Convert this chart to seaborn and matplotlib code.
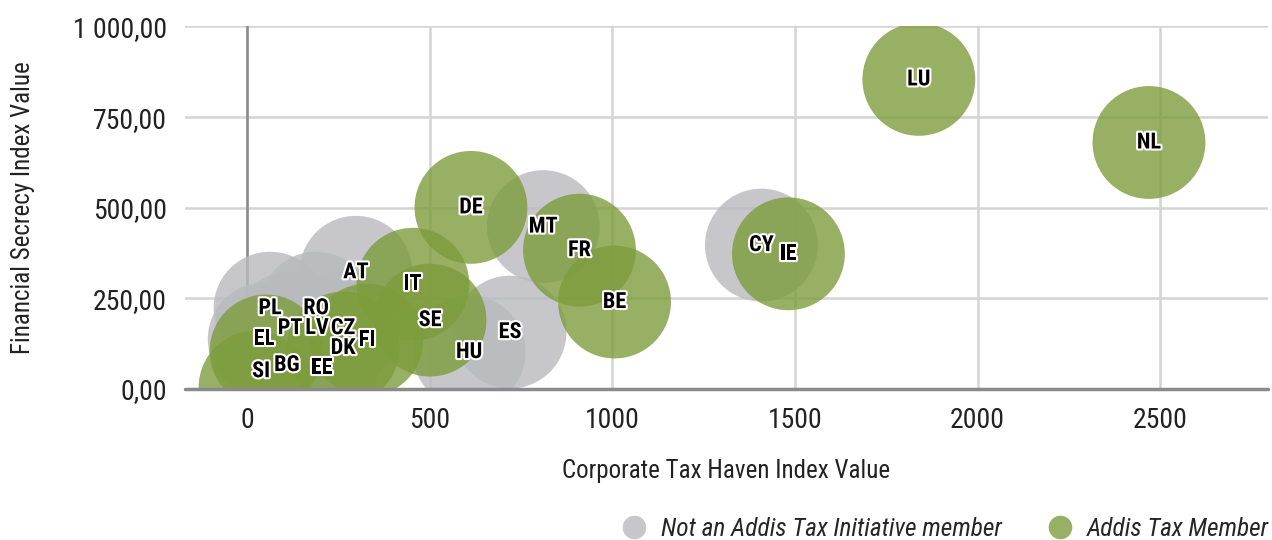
import matplotlib
matplotlib.use("Agg")
import matplotlib.pyplot as plt
import matplotlib.patheffects as pe
from matplotlib.lines import Line2D
from matplotlib.ticker import FuncFormatter
import pandas as pd
import seaborn as sns

# Datos
paises = ['MT', 'CY', 'AT', 'ES', 'HU', 'PL', 'RO', 'PT', 'CZ', 'EL', 'BG', 'EE',
          'LU', 'NL', 'DE', 'FR', 'BE', 'IE', 'IT', 'SE', 'DK', 'FI', 'LV', 'SI']
corporate_tax = [811, 1408, 298, 720, 608, 63, 189, 118, 263, 47, 109, 205,
                 1839, 2469, 613, 910, 1006, 1482, 454, 501, 263, 328, 52, 22]
financial_secrecy = [448, 397, 322, 157, 102, 223, 223, 168, 168, 138, 66, 58,
                     854, 680, 501, 383, 240, 373, 289, 190, 113, 135, 105, 5]
miembro = ['No'] * 12 + ['Si'] * 12

gris = '#b9babe'
verde = '#7d9d3c'

df = pd.DataFrame({'pais': paises, 'x': corporate_tax, 'y': financial_secrecy, 'miembro': miembro})

sns.set_style('white')
plt.rcParams['font.family'] = ['Roboto Condensed', 'Roboto', 'DejaVu Sans']

fig = plt.figure(figsize=(12.72, 5.4), dpi=100)
ax = fig.add_axes([0.1454, 0.2796, 0.8515, 0.6714])

ax.grid(True, color='#d4d4d4', linewidth=1.8, zorder=0)
ax.set_axisbelow(True)

sns.scatterplot(data=df, x='x', y='y', hue='miembro', palette={'No': gris, 'Si': verde},
                s=6600, alpha=0.8, edgecolor='none', legend=False, ax=ax, zorder=2)

# etiquetas movidas a mano en el original
desplazar = {'LV': (51, 23), 'SI': (6, 16)}
for p, xv, yv in zip(paises, corporate_tax, financial_secrecy):
    dx, dy = desplazar.get(p, (0, 0))
    ax.annotate(p, (xv, yv), xytext=(dx * 0.72, dy * 0.72), textcoords='offset points',
                ha='center', va='center', fontsize=16, fontweight='bold', color='black', zorder=5,
                path_effects=[pe.withStroke(linewidth=3, foreground='white')])

ax.axvline(0, color='#8a8a8a', linewidth=1.8, zorder=1)
ax.axhline(0, color='#8a8a8a', linewidth=2.5, zorder=6, clip_on=False)

ax.set_xlim(-170, 2795)
ax.set_ylim(0, 1000)
ax.set_xticks([0, 500, 1000, 1500, 2000, 2500])
ax.set_yticks([0, 250, 500, 750, 1000])
ax.yaxis.set_major_formatter(FuncFormatter(lambda v, pos: f"{v:,.2f}".replace(',', ' ').replace('.', ',')))
ax.tick_params(axis='both', length=0, labelsize=20, colors='#222222', pad=13)
for s in ax.spines.values():
    s.set_visible(False)

ax.set_xlabel('Corporate Tax Haven Index Value', fontsize=18, color='#222222', labelpad=18)
ax.set_ylabel('Financial Secrecy Index Value', fontsize=18, color='#222222', labelpad=27)

handles = [Line2D([], [], marker='o', linestyle='none', markersize=17, markerfacecolor=gris,
                  markeredgecolor='none', alpha=0.8),
           Line2D([], [], marker='o', linestyle='none', markersize=17, markerfacecolor=verde,
                  markeredgecolor='none', alpha=0.8)]
fig.legend(handles, ['Not an Addis Tax Initiative member', 'Addis Tax Member'],
           loc='lower right', bbox_to_anchor=(1.0156, -0.044), ncol=2, frameon=False,
           prop={'style': 'italic', 'size': 18.3}, handletextpad=0.05, columnspacing=1.3)

fig.savefig('out.png', dpi=100)
